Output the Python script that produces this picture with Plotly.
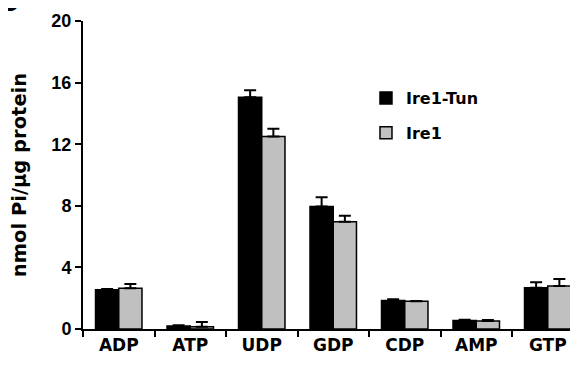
import plotly.graph_objects as go

categories = ["ADP", "ATP", "UDP", "GDP", "CDP", "AMP", "GTP"]
ire1_tun = [2.55, 0.2, 15.05, 7.95, 1.85, 0.55, 2.68]
ire1_tun_err = [0.05, 0.05, 0.45, 0.6, 0.08, 0.05, 0.35]
ire1 = [2.65, 0.15, 12.5, 6.97, 1.8, 0.52, 2.8]
ire1_err = [0.28, 0.3, 0.5, 0.38, 0.02, 0.06, 0.45]
y_ticks = [0, 4, 8, 12, 16, 20]

wide = "DejaVu Sans, sans-serif"
arial = "Liberation Sans, Arial, sans-serif"

fig = go.Figure()
fig.add_trace(go.Bar(
    x=categories, y=ire1_tun, name="Ire1-Tun",
    marker=dict(color="black", line=dict(color="black", width=1.5)),
    error_y=dict(type="data", array=ire1_tun_err, arrayminus=[0]*7, symmetric=False,
                 color="black", thickness=2, width=6),
    legendgroup="a",
))
fig.add_trace(go.Bar(
    x=categories, y=ire1, name="Ire1",
    marker=dict(color="#c0c0c0", line=dict(color="black", width=1.5)),
    error_y=dict(type="data", array=ire1_err, arrayminus=[0]*7, symmetric=False,
                 color="black", thickness=2, width=6),
    legendgroup="b",
))

fig.add_annotation(x=0.0, y=1.0, xref="paper", yref="paper", xanchor="left", yanchor="bottom",
                   text="<b>B</b>", showarrow=False, font=dict(family=arial, size=30, color="black"),
                   xshift=-88, yshift=2)

fig.update_layout(
    width=578, height=371,
    margin=dict(l=75, r=0, t=13, b=50, autoexpand=False),
    paper_bgcolor="white", plot_bgcolor="white",
    barmode="group", bargap=0.35, bargroupgap=0.0,
    font=dict(family=wide, size=17, color="black", weight="bold"),
    showlegend=True,
    legend=dict(x=0.5626, y=0.805, xanchor="left", yanchor="top", bgcolor="rgba(0,0,0,0)",
                font=dict(family=wide, size=16, color="black", weight="bold"), tracegroupgap=11,
                itemwidth=30, traceorder="grouped"),
    xaxis=dict(range=[-0.5, 6.535], showline=True, linecolor="black", linewidth=2,
               ticks="outside", tickson="boundaries", ticklen=6, tickwidth=2, tickcolor="black",
               tickfont=dict(family=wide, size=17, color="black", weight="bold"),
               showgrid=False, fixedrange=True, automargin=False),
    yaxis=dict(range=[0, 20], tickvals=y_ticks, showline=True, linecolor="black", linewidth=2,
               ticks="outside", ticklen=6, tickwidth=2, tickcolor="black",
               tickfont=dict(family=arial, size=18, color="black", weight="bold"),
               showgrid=False, zeroline=False, automargin=False,
               title=dict(text="nmol Pi/μg protein",
                          font=dict(family=wide, size=19.5, color="black", weight="bold"),
                          standoff=26)),
)

fig.write_html("out.html")
